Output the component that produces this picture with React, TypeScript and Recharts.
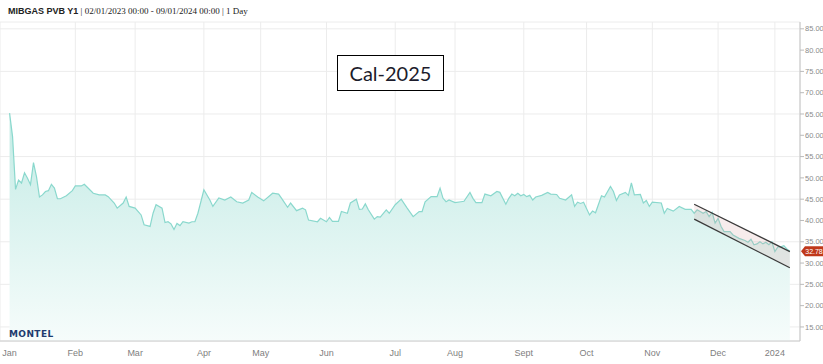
import { AreaChart, Area, XAxis, YAxis, CartesianGrid, ReferenceLine } from "recharts"

// trading-day index (weekends/holidays skipped, like the source's ordinal axis)
const monthLabels = ["Jan", "Feb", "Mar", "Apr", "May", "Jun", "Jul", "Aug", "Sept", "Oct", "Nov", "Dec", "2024"]
const monthStartIdx = [0, 22, 42, 65, 84, 106, 129, 149, 172, 193, 215, 237, 256]

const yTicks = [15, 20, 25, 30, 35, 40, 45, 50, 55, 60, 65, 70, 75, 80, 85]

const dayIdx = [
  0, 1, 2, 3, 4, 5, 6, 7, 8, 9, 10, 11, 12, 13, 14, 15, 16, 17, 19, 21, 22, 24, 25, 26, 28, 30, 32, 33, 35, 36,
  38, 39, 40, 42, 44, 45, 47, 48, 49, 51, 52, 53, 54, 55, 56, 57, 58, 60, 61, 62, 63, 65, 67, 68, 70, 72, 74, 76,
  78, 80, 81, 83, 85, 88, 90, 91, 93, 94, 96, 98, 99, 100, 103, 104, 106, 107, 108, 110, 111, 113, 114, 116, 117,
  118, 119, 120, 122, 123, 124, 126, 127, 129, 131, 133, 135, 137, 138, 139, 141, 143, 144, 145, 146, 147, 149,
  151, 152, 154, 155, 156, 158, 159, 161, 163, 164, 166, 167, 168, 169, 170, 171, 172, 173, 174, 175, 176, 178,
  180, 181, 183, 184, 186, 188, 189, 190, 191, 192, 194, 195, 196, 198, 199, 201, 202, 203, 204, 206, 207, 208,
  209, 211, 212, 213, 214, 215, 218, 219, 220, 222, 224, 226, 228, 229, 230, 232, 233, 234, 235, 236, 237, 238,
  239, 241, 242, 244, 246, 247, 248, 249, 250, 251, 252, 253, 254, 255, 256, 257, 258, 259, 260, 261,
]

const price = [
  65.2, 59.7, 47.3, 49.5, 48.8, 51.2, 49.9, 48.4, 53.6, 50.3, 45.5, 46.0, 46.8, 47.0, 48.5, 47.6, 45.1, 45.1, 45.8,
  47.0, 48.1, 48.1, 48.5, 47.8, 46.4, 46.0, 46.0, 45.6, 44.1, 42.9, 44.1, 45.5, 43.3, 42.9, 41.3, 39.0, 38.6, 41.7,
  43.7, 42.9, 39.5, 39.7, 39.2, 37.9, 39.3, 38.8, 39.7, 39.4, 39.7, 39.7, 41.7, 47.2, 44.8, 43.3, 45.3, 44.8, 45.5,
  44.4, 44.1, 44.8, 46.6, 45.5, 44.6, 46.4, 46.2, 45.2, 43.1, 44.1, 42.3, 42.9, 42.5, 40.1, 39.7, 40.5, 39.7, 40.7,
  39.8, 39.8, 42.1, 41.7, 44.1, 45.0, 42.6, 42.7, 43.9, 42.5, 40.3, 40.9, 40.8, 42.5, 41.7, 43.7, 45.0, 42.9, 40.9,
  42.1, 42.1, 44.4, 45.6, 45.6, 47.6, 45.2, 44.4, 44.8, 44.2, 44.4, 44.5, 46.6, 45.2, 44.2, 44.2, 46.2, 45.8, 46.8,
  46.6, 43.8, 45.2, 46.2, 45.8, 46.4, 45.8, 46.1, 45.6, 45.9, 44.8, 45.5, 45.9, 46.6, 46.2, 46.1, 45.2, 44.8, 46.0,
  43.3, 44.3, 44.0, 44.3, 41.3, 42.2, 41.8, 45.8, 45.5, 48.0, 46.8, 44.7, 46.0, 46.6, 45.9, 48.8, 46.0, 46.1, 44.1,
  44.7, 43.3, 44.3, 44.1, 41.7, 42.8, 42.2, 43.3, 42.6, 42.6, 41.7, 42.5, 41.7, 42.1, 40.9, 41.9, 39.4, 40.5, 38.6,
  37.4, 37.4, 36.6, 35.8, 35.3, 34.9, 35.6, 34.3, 34.5, 35.0, 34.5, 34.9, 34.3, 35.0, 32.7, 33.8, 33.8, 34.1, 33.3,
  32.78,
]

// hand-drawn downward channel
const channelIdx = [229, 261]
const channelHigh = [43.8, 32.7]
const channelLow = [40.3, 28.9]

const data = dayIdx.map((i, k) => {
  const c = channelIdx.indexOf(i)
  return { i, p: price[k], ch: c >= 0 ? [channelLow[c], channelHigh[c]] : undefined }
})

const lastPrice = price[price.length - 1]

function PriceTag(props: any) {
  const { viewBox } = props
  if (!viewBox) return null
  const x = viewBox.x + viewBox.width + 1
  const y = viewBox.y
  return (
    <g>
      <polygon
        points={`${x},${y} ${x + 4},${y - 5} ${x + 22},${y - 5} ${x + 22},${y + 5} ${x + 4},${y + 5}`}
        fill="#c0391b"
      />
      <text x={x + 13} y={y + 2.5} textAnchor="middle" fontSize={7} fill="#fff" fontFamily="Liberation Sans, Arial">
        {lastPrice.toFixed(2)}
      </text>
    </g>
  )
}

export default function App() {
  return (
    <div style={{ position: "absolute", left: 0, top: 0, width: 823, height: 364, background: "#fff" }}>
      <div
        style={{
          position: "absolute",
          left: 8,
          top: 6,
          fontSize: 9,
          whiteSpace: "nowrap",
          color: "#222",
          fontFamily: "Liberation Serif, serif",
        }}
      >
        <b style={{ fontFamily: "Liberation Sans, Arial, sans-serif" }}>MIBGAS PVB Y1</b> | 02/01/2023 00:00 - 09/01/2024
        00:00 | 1 Day
      </div>

      <AreaChart width={823} height={364} data={data} margin={{ top: 22, right: 0, bottom: 0, left: 0 }}>
        <defs>
          <linearGradient id="fillTeal" x1="0" y1="0" x2="0" y2="1">
            <stop offset="0%" stopColor="#c3ebe5" />
            <stop offset="100%" stopColor="#f6fcfb" />
          </linearGradient>
        </defs>
        <CartesianGrid stroke="#ececec" strokeWidth={1} />
        <XAxis
          dataKey="i"
          type="number"
          domain={[-3.2, 264.4]}
          allowDataOverflow
          ticks={monthStartIdx}
          tickFormatter={(v) => monthLabels[monthStartIdx.indexOf(v)]}
          tickLine={false}
          axisLine={{ stroke: "#cccccc" }}
          height={23}
          tickMargin={3}
          tick={{ fontSize: 9, fill: "#808080", fontFamily: "Liberation Sans, Arial" }}
        />
        <YAxis
          orientation="right"
          type="number"
          domain={[11.7, 86.6]}
          allowDataOverflow
          ticks={yTicks}
          tickFormatter={(v) => Number(v).toFixed(2)}
          width={23}
          tickSize={4}
          tickMargin={1}
          tickLine={{ stroke: "#bbb" }}
          axisLine={{ stroke: "#c4c4c4" }}
          tick={{ fontSize: 7.5, fill: "#8c8c8c", fontFamily: "Liberation Sans, Arial", textAnchor: "start" }}
        />
        <Area
          type="linear"
          dataKey="p"
          stroke="#8ad8cd"
          strokeWidth={1.2}
          fill="url(#fillTeal)"
          fillOpacity={1}
          dot={false}
          activeDot={false}
          isAnimationActive={false}
        />
        <Area
          type="linear"
          dataKey={(d: any) => d.ch}
          stroke="none"
          fill="#d9a0a0"
          fillOpacity={0.2}
          connectNulls
          dot={false}
          activeDot={false}
          isAnimationActive={false}
        />
        <ReferenceLine
          segment={[
            { x: channelIdx[0], y: channelHigh[0] },
            { x: channelIdx[1], y: channelHigh[1] },
          ]}
          stroke="#3a3a3a"
          strokeWidth={1.3}
        />
        <ReferenceLine
          segment={[
            { x: channelIdx[0], y: channelLow[0] },
            { x: channelIdx[1], y: channelLow[1] },
          ]}
          stroke="#3a3a3a"
          strokeWidth={1.3}
        />
        <ReferenceLine y={lastPrice} stroke="none" label={<PriceTag />} />
      </AreaChart>

      <div
        style={{
          position: "absolute",
          left: 337,
          top: 55,
          width: 105,
          height: 34,
          border: "1px solid #000",
          background: "#fff",
          display: "flex",
          alignItems: "center",
          justifyContent: "center",
          fontSize: 20,
          color: "#1c1c2c",
          fontFamily: "Lato, Liberation Sans, sans-serif",
        }}
      >
        Cal-2025
      </div>

      <div
        style={{
          position: "absolute",
          left: 9,
          top: 329,
          fontSize: 9,
          fontWeight: 900,
          letterSpacing: 0.4,
          color: "#1d3b6e",
          fontFamily: "DejaVu Sans, sans-serif",
        }}
      >
        MONTEL
      </div>
    </div>
  )
}
